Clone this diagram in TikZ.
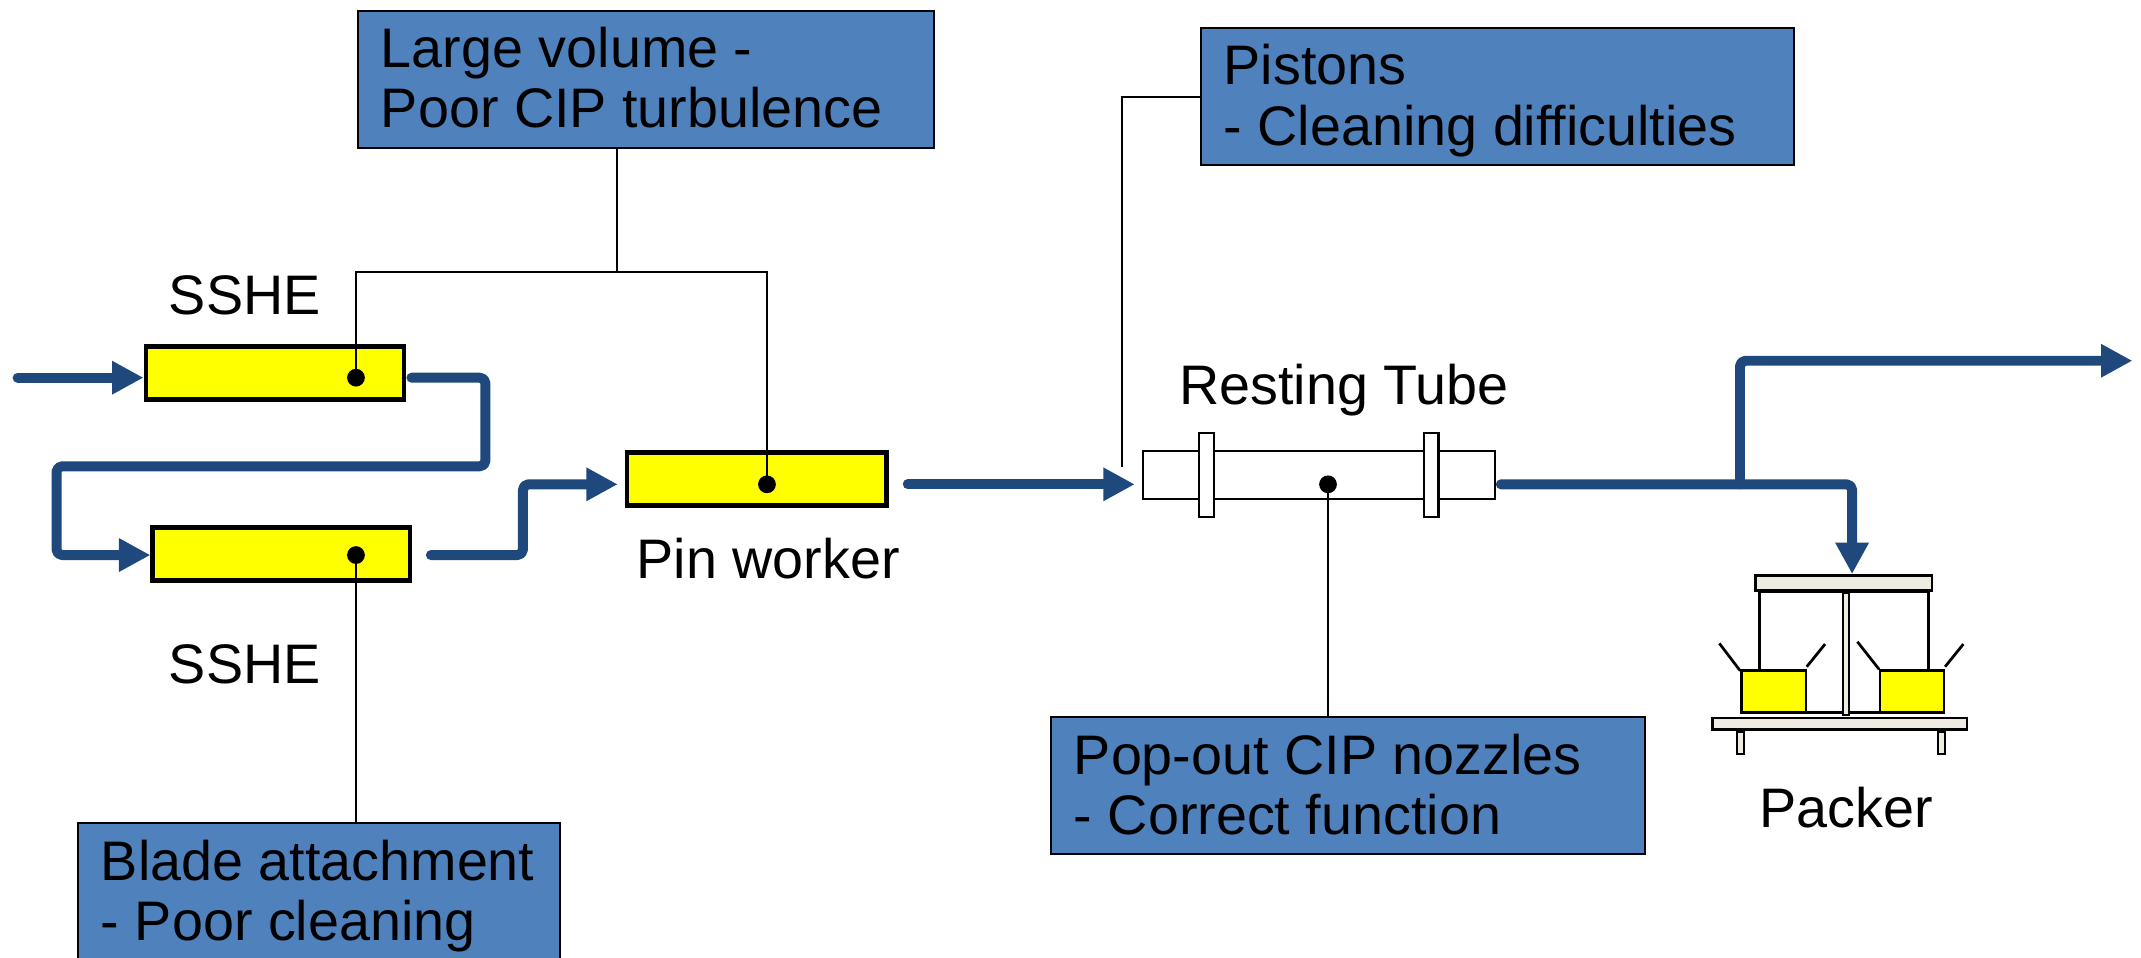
\documentclass[tikz,border=0pt]{standalone}
\usepackage{fontspec}
\setmainfont{Liberation Sans}
\usetikzlibrary{arrows.meta,calc}
\definecolor{boxblue}{HTML}{4F81BD}
\definecolor{flowblue}{HTML}{1F497D}
\definecolor{unityellow}{HTML}{FFFF00}
\definecolor{plategrey}{HTML}{EEECE1}

\begin{document}
\begin{tikzpicture}[x=1pt,y=-1pt,
  txt/.style={inner sep=0pt, anchor=base west, font=\fontsize{40.8}{44}\selectfont},
  bluebox/.style={draw=black, line width=1.5pt, fill=boxblue, anchor=north west, inner sep=0pt},
  unitbox/.style={draw=black, line width=3.4pt, fill=unityellow, inner sep=0pt},
  dotn/.style={circle, fill=black, inner sep=0pt, minimum size=13pt},
  conn/.style={draw=black, line width=1.5pt},
  flow/.style={draw=flowblue, line width=7.3pt, line cap=round, line join=round,
    rounded corners=4pt, -{Triangle[length=23pt,width=23pt]}},
  tubepart/.style={draw=black, line width=1.5pt, fill=white, inner sep=0pt},
  part/.style={draw=black, line width=2pt},
]
% canvas
\fill[white] (0,0) rectangle (1568,701);
\useasboundingbox (0,0) rectangle (1568,701);

% ---------- process units ----------
\node[unitbox, minimum width=189.2pt, minimum height=38.6pt] (sshe1) at (201.4,273.2) {};
\node[unitbox, minimum width=188.3pt, minimum height=38.8pt] (sshe2) at (206,405.6) {};
\node[unitbox, minimum width=190pt, minimum height=38.8pt] (pin) at (554.1,350.7) {};

% resting tube with two flanges
\node[tubepart, minimum width=258pt, minimum height=35.2pt] (tube) at (965.8,347.9) {};
\node[tubepart, minimum width=10.8pt, minimum height=61.5pt] (fl1) at (883.8,348.1) {};
\node[tubepart, minimum width=10.8pt, minimum height=61.5pt] (fl2) at (1048.1,348.1) {};

% packer
\draw[part] (1288.5,433.3) rectangle (1352,521.7);
\draw[part] (1352,433.3) rectangle (1412.3,521.7);
\draw[part, line width=1.5pt, fill=plategrey] (1350,434.6) rectangle (1354.2,523.7);
\draw[part, fill=unityellow] (1275.6,491.2) rectangle (1322.7,521.7);
\draw[part, fill=unityellow] (1376.9,491.2) rectangle (1423.8,521.7);
\draw[part] (1259.2,471.2) -- (1274.4,491.2);
\draw[part] (1323.2,488.3) -- (1336.6,471.7);
\draw[part] (1360.3,470) -- (1376.2,490.2);
\draw[part] (1424.5,488.3) -- (1437.9,471.7);
\node[part, fill=plategrey, inner sep=0pt, minimum width=129.4pt, minimum height=10.9pt] (packtop) at (1350.3,426.9) {};
\node[part, fill=plategrey, inner sep=0pt, minimum width=186.5pt, minimum height=8.2pt] (packbase) at (1347.35,530) {};
\draw[part, line width=1.5pt, fill=plategrey] (1272.4,536.3) rectangle (1277.1,552.5);
\draw[part, line width=1.5pt, fill=plategrey] (1419.6,536.3) rectangle (1424.3,552.5);

% ---------- measuring points ----------
\coordinate (j1) at (451.7,199);
\coordinate (pend) at (822,341.8);

% ---------- problem boxes ----------
\node[bluebox, minimum width=422pt, minimum height=100pt] (b1) at (261.3,7.3) {};
\node[txt] (b1a) at ($(b1.north west)+(17.5,42.3)$) {Large volume -};
\node[txt] (b1b) at ($(b1.north west)+(17.5,86.3)$) {Poor CIP turbulence};

\node[bluebox, minimum width=434.6pt, minimum height=100.6pt] (b2) at (878.5,19.7) {};
\node[txt] (b2a) at ($(b2.north west)+(17.5,42.5)$) {Pistons};
\node[txt] (b2b) at ($(b2.north west)+(17.5,86.5)$) {- Cleaning difficulties};

\node[bluebox, minimum width=435.3pt, minimum height=100.3pt] (b3) at (768.75,524.45) {};
\node[txt] (b3a) at ($(b3.north west)+(17.5,42.5)$) {Pop-out CIP nozzles};
\node[txt] (b3b) at ($(b3.north west)+(17.5,86.5)$) {- Correct function};

\node[bluebox, minimum width=353pt, minimum height=101pt] (b4) at (56.25,602.05) {};
\node[txt] (b4a) at ($(b4.north west)+(17.5,42.5)$) {Blade attachment};
\node[txt] (b4b) at ($(b4.north west)+(17.5,86.5)$) {- Poor cleaning};

% ---------- labels ----------
\node[txt] (lsshe1) at (123.5,230.2) {SSHE};
\node[txt] (lsshe2) at (123.5,500.5) {SSHE};
\node[txt] (lpin) at (466,423.4) {Pin worker};
\node[txt] (ltube) at (863.5,296.5) {Resting Tube};
\node[txt] (lpack) at (1288.5,606) {Packer};

% ---------- dots and leader lines ----------
\node[dotn] (d1) at (260.7,276.6) {};
\node[dotn] (d2) at (260.7,406.5) {};
\node[dotn] (d3) at (561.7,354.7) {};
\node[dotn] (d4) at (972.6,354.7) {};

\draw[conn] (d1.center) |- (j1) -| (d3.center);
\draw[conn] (j1) -- (j1 |- b1.south);
\draw[conn] (b2.west) -| (pend);
\draw[conn] (d4.center) -- (d4 |- b3.north);
\draw[conn] (d2.center) -- (d2 |- b4.north);

% ---------- product flow ----------
\coordinate (in) at (12.9,276.6);
\coordinate (pk) at (1356.4,354.7);
\coordinate (br) at (1274.3,354.7);
\coordinate (outend) at (1561.7,264.2);

\draw[flow] (in) -- (sshe1.west |- d1);
\draw[flow] ($(sshe1.east |- d1)+(3.6,0)$) -- (355.5,276.6) -- (355.5,341.5)
  -- (41.4,341.5) -- (41.4,406.5) -- (sshe2.west |- d2);
\draw[flow] ($(sshe2.east |- d2)+(13.7,0)$) -- (383,406.5) -- (383,354.7)
  -- ($(pin.west |- d3)+(-5,0)$);
\draw[flow] ($(pin.east |- d3)+(14,0)$) -- ($(tube.west |- d4)+(-5,0)$);
\draw[flow] ($(tube.east |- d4)+(3.6,0)$) -- (pk) -- (pk |- packtop.north);
\draw[flow] (br) |- (outend);
\end{tikzpicture}
\end{document}
